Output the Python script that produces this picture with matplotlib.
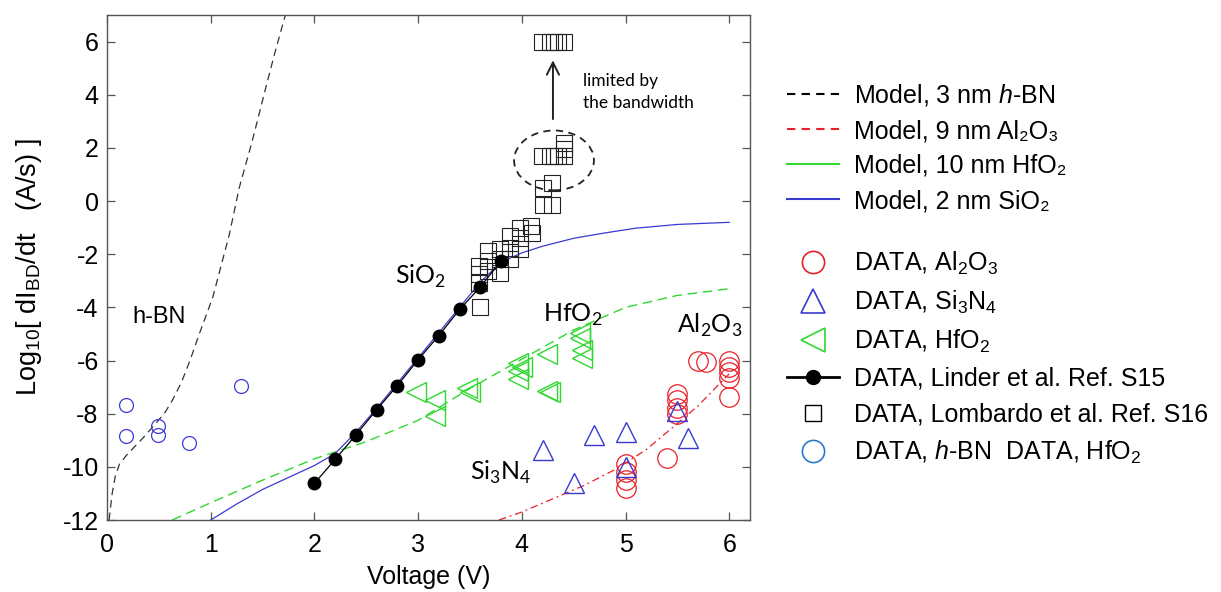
import numpy as np
import matplotlib
matplotlib.use("Agg")
import matplotlib.pyplot as plt
from matplotlib.lines import Line2D
from matplotlib.patches import Ellipse

plt.rcParams['font.family'] = ['Liberation Sans', 'DejaVu Sans']
plt.rcParams['mathtext.fontset'] = 'custom'
plt.rcParams['mathtext.rm'] = 'Liberation Sans'
plt.rcParams['mathtext.it'] = 'Liberation Sans:italic'
plt.rcParams['mathtext.bf'] = 'Liberation Sans:bold'
plt.rcParams['axes.unicode_minus'] = False

# === Model curves ===
hbn_model_v = [0.02, 0.05, 0.08, 0.12, 0.18, 0.24, 0.35, 0.47, 0.56, 0.63, 0.72, 0.80, 0.89, 1.02, 1.18, 1.275, 1.40, 1.53, 1.62, 1.72]
hbn_model_y = [-12.0, -11.0, -10.35, -9.9, -9.6, -9.35, -8.9, -8.37, -7.95, -7.5, -6.8, -6.0, -5.0, -3.62, -1.25, 0.5, 2.25, 4.25, 5.6, 7.0]

al_model_v = [3.78, 4.0, 4.3, 4.6, 4.9, 5.2, 5.46, 5.7, 5.85, 6.0]
al_model_y = [-12.0, -11.7, -11.2, -10.7, -10.1, -9.35, -8.5, -7.7, -7.1, -6.5]

hf_model_v = [0.63, 1.0, 1.5, 2.0, 2.5, 3.0, 3.5, 4.0, 4.5, 5.0, 5.5, 6.0]
hf_model_y = [-12.0, -11.35, -10.5, -9.7, -9.05, -8.25, -7.05, -5.95, -4.85, -4.0, -3.55, -3.3]

si_model_v = [1.0, 1.25, 1.5, 1.75, 2.0, 2.2, 2.4, 2.6, 2.8, 3.0, 3.2, 3.4, 3.6, 3.8, 4.0, 4.2, 4.5, 4.8, 5.1, 5.5, 6.0]
si_model_y = [-12.0, -11.4, -10.85, -10.4, -9.95, -9.5, -8.7, -7.8, -6.85, -5.9, -4.95, -4.0, -3.05, -2.3, -1.95, -1.7, -1.4, -1.2, -1.02, -0.88, -0.8]

# === Data ===
al_v = [5.0, 5.0, 5.0, 5.0, 5.4, 5.5, 5.5, 5.5, 5.5, 5.7, 5.78, 6.0, 6.0, 6.0, 6.0, 6.0]
al_y = [-9.9, -10.2, -10.5, -10.8, -9.67, -7.25, -7.5, -7.8, -8.0, -6.0, -6.06, -6.0, -6.25, -6.45, -6.65, -7.37]

sin_v = [4.2, 4.5, 4.7, 5.0, 5.0, 5.5, 5.6]
sin_y = [-9.35, -10.6, -8.8, -8.7, -10.0, -7.9, -8.9]

hf_v = [2.98, 3.16, 3.16, 3.47, 3.5, 3.96, 3.96, 3.96, 4.0, 4.24, 4.24, 4.27, 4.56, 4.56, 4.58, 4.58]
hf_y = [-7.2, -7.5, -8.1, -7.05, -7.2, -6.1, -6.4, -6.7, -6.25, -5.75, -7.15, -7.2, -4.95, -5.15, -5.6, -5.9]

linder_v = [2.0, 2.2, 2.4, 2.6, 2.8, 3.0, 3.2, 3.4, 3.6, 3.8]
linder_y = [-10.62, -9.72, -8.8, -7.85, -6.94, -5.97, -5.06, -4.08, -3.23, -2.25]

lomb_v = [3.59, 3.59, 3.59, 3.6, 3.67, 3.67, 3.67, 3.79, 3.79, 3.79, 3.89, 3.89, 3.89,
          3.98, 3.98, 3.98, 4.09, 4.1, 4.2, 4.29, 4.2, 4.29,
          4.19, 4.27, 4.31, 4.35, 4.41, 4.41, 4.41,
          4.19, 4.27, 4.31, 4.35, 4.41]
lomb_y = [-2.44, -2.74, -3.07, -3.97, -1.87, -2.25, -2.62, -1.8, -2.17, -2.7, -1.31, -1.76, -2.17,
          -1.01, -1.39, -1.8, -0.94, -1.2, -0.13, -0.13, 0.49, 0.69,
          1.69, 1.69, 1.69, 1.69, 1.69, 1.95, 2.2,
          6.0, 6.0, 6.0, 6.0, 6.0]

hbn_v = [0.18, 0.18, 0.49, 0.49, 0.79, 1.29]
hbn_y = [-7.69, -8.85, -8.47, -8.81, -9.12, -6.97]

RED = '#e8202a'
BLUE = '#3a3ad2'
GREEN = '#2fd82f'
HBN_BLUE = '#3b3bd8'
HBN_LEG = '#2b7bcc'

fig = plt.figure(figsize=(12.21, 5.92), dpi=100)
ax = fig.add_axes([107 / 1221, 72 / 592, 643 / 1221, 505 / 592])

ax.plot(hbn_model_v, hbn_model_y, color='#333333', ls=(0, (6, 4)), lw=0.9)
ax.plot(al_model_v, al_model_y, color=RED, ls=(0, (6, 3, 1.5, 3)), lw=0.9)
ax.plot(hf_model_v, hf_model_y, color=GREEN, ls=(0, (7, 4)), lw=1.0)
ax.plot(si_model_v, si_model_y, color=BLUE, ls='-', lw=0.9)

ax.plot(al_v, al_y, 'o', ms=14, mfc='none', mec=RED, mew=0.9)
ax.plot(sin_v, sin_y, '^', ms=15, mfc='none', mec=BLUE, mew=1.0)
ax.plot(hf_v, hf_y, '<', ms=15, mfc='none', mec=GREEN, mew=1.0)
ax.plot(lomb_v, lomb_y, 's', ms=11.5, mfc='none', mec='#222222', mew=0.8)
ax.plot(linder_v, linder_y, '-o', color='black', lw=0.9, ms=9, mfc='black', mec='black')
ax.plot(hbn_v, hbn_y, 'o', ms=10, mfc='none', mec=HBN_BLUE, mew=0.9)

# annotations
ax.add_patch(Ellipse((4.31, 1.53), 0.77, 2.25, fill=False, ls=(0, (4, 3)), lw=1.3, ec='#222222'))
ax.annotate('', xy=(4.30, 5.4), xytext=(4.30, 2.98),
            arrowprops=dict(arrowstyle='->', lw=1.4, color='#222222', mutation_scale=22))
ax.text(4.59, 4.1, 'limited by\nthe bandwidth', fontsize=12.5, family=['Lato', 'DejaVu Sans'],
        va='center', ha='left', linespacing=1.45)

lbl = dict(fontsize=18, family=['Lato', 'DejaVu Sans'], va='center', ha='left')
ax.text(2.78, -2.85, r'SiO$_\mathregular{2}$', **lbl)
ax.text(4.2, -4.3, r'HfO$_\mathregular{2}$', **lbl)
ax.text(5.5, -4.66, r'Al$_\mathregular{2}$O$_\mathregular{3}$', **lbl)
ax.text(3.5, -10.2, r'Si$_\mathregular{3}$N$_\mathregular{4}$', **lbl)
ax.text(0.24, -4.35, 'h-BN', fontsize=17, va='center', ha='left')

ax.set_xlim(0, 6.2)
ax.set_ylim(-12, 7)
ax.set_xticks(range(0, 7))
ax.set_yticks(range(-12, 7, 2))
ax.tick_params(direction='in', length=6, width=0.9, top=True, right=True,
               labelsize=18, color='#555555')
ax.tick_params(axis='x', pad=9)
ax.tick_params(axis='y', pad=6)
for s in ax.spines.values():
    s.set_color('#555555')
    s.set_linewidth(1.0)
ax.set_xlabel('Voltage (V)', fontsize=18, labelpad=6)
ax.set_ylabel(r'Log$_{10}$[ dI$_\mathregular{BD}$/dt   (A/s) ]', fontsize=19.5)
ax.yaxis.set_label_coords(-0.098, 0.5)

# legends
model_handles = [
    Line2D([], [], color='black', ls=(0, (4, 3)), lw=1.5),
    Line2D([], [], color=RED, ls=(0, (4, 3)), lw=1.5),
    Line2D([], [], color=GREEN, ls='-', lw=1.5),
    Line2D([], [], color=BLUE, ls='-', lw=1.5),
]
model_labels = ['Model, 3 nm $\\mathit{h}$-BN', 'Model, 9 nm Al\u2082O\u2083',
                'Model, 10 nm HfO\u2082', 'Model, 2 nm SiO\u2082']
leg1 = fig.legend(model_handles, model_labels, loc='upper left',
                  bbox_to_anchor=(787 / 1221, 1 - 82 / 592), frameon=False,
                  fontsize=18, handlelength=2.1, handletextpad=0.6,
                  borderpad=0, borderaxespad=0, labelspacing=0.44)

data_handles = [
    Line2D([], [], ls='none', marker='o', ms=16, mfc='none', mec=RED, mew=1.2),
    Line2D([], [], ls='none', marker='^', ms=17, mfc='none', mec=BLUE, mew=1.2),
    Line2D([], [], ls='none', marker='<', ms=17, mfc='none', mec=GREEN, mew=1.2),
    Line2D([], [], color='black', lw=2, marker='o', ms=10),
    Line2D([], [], ls='none', marker='s', ms=12, mfc='none', mec='black', mew=1.0),
    Line2D([], [], ls='none', marker='o', ms=16, mfc='none', mec=HBN_LEG, mew=1.2),
]
data_labels = [r'DATA, Al$_\mathregular{2}$O$_\mathregular{3}$',
               r'DATA, Si$_\mathregular{3}$N$_\mathregular{4}$',
               r'DATA, HfO$_\mathregular{2}$',
               'DATA, Linder et al. Ref. S15',
               'DATA, Lombardo et al. Ref. S16',
               r'DATA, $\mathit{h}$-BN  DATA, HfO$_\mathregular{2}$']
leg2 = fig.legend(data_handles, data_labels, loc='upper left',
                  bbox_to_anchor=(787 / 1221, 1 - 250 / 592), frameon=False,
                  fontsize=18, handlelength=2.1, handletextpad=0.6,
                  borderpad=0, borderaxespad=0, labelspacing=0.47, numpoints=1)

fig.savefig('out.png', dpi=100)
